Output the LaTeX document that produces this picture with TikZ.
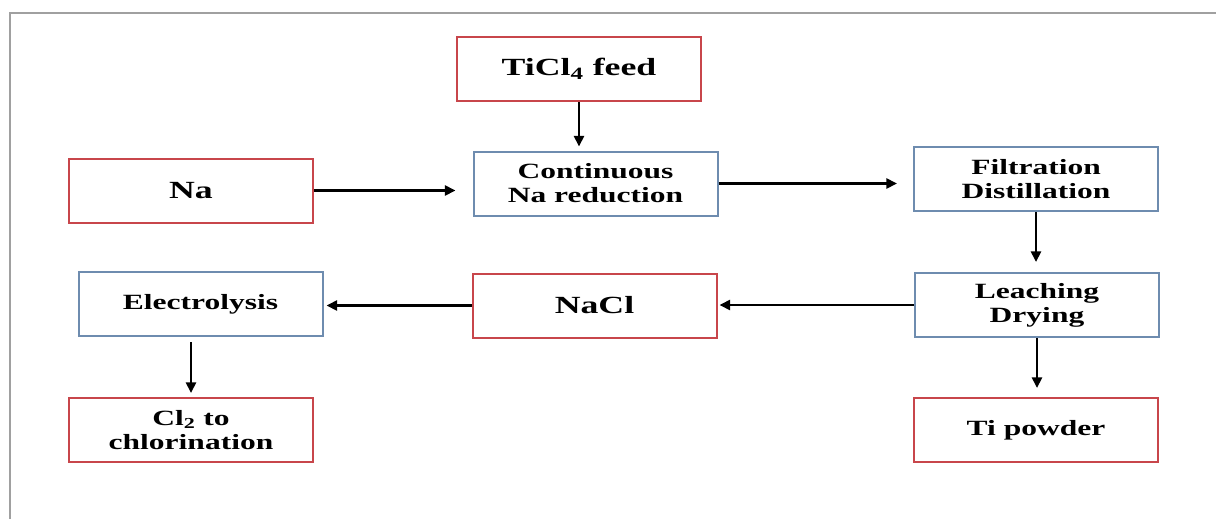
\documentclass[tikz,border=0pt]{standalone}
\usepackage{fontspec}
\setmainfont[FakeStretch=1.45]{Liberation Serif}
\usetikzlibrary{arrows.meta}
\definecolor{boxred}{RGB}{200,70,75}
\definecolor{boxblue}{RGB}{110,140,175}
\definecolor{framegray}{RGB}{160,160,160}
\begin{document}
\begin{tikzpicture}[x=0.75pt,y=-0.75pt,
  box/.style={draw, line width=1.5pt, fill=white, minimum width=183pt, minimum height=48pt,
    inner sep=0pt, align=center, font=\bfseries\fontsize{16.3}{18}\selectfont},
  redbox/.style={box, draw=boxred},
  bluebox/.style={box, draw=boxblue},
  bigtext/.style={font=\bfseries\fontsize{18.5}{20}\selectfont},
  arr/.style={line width=2.1pt, -{Triangle[length=8pt,width=7.5pt]}}]
\useasboundingbox (0,0) rectangle (1216,519);
\draw[framegray, line width=1.2pt] (10,519) -- (10,13) -- (1216,13);

\node[redbox, bigtext] (feed) at (579,69) {TiCl\textsubscript{4} feed};
\node[bluebox] (cont) at (595.5,183.5) {Continuous\\Na reduction};
\node[redbox, bigtext] (na) at (191,190.5) {Na};
\node[bluebox] (filt) at (1036,179) {Filtration\\Distillation};
\node[bluebox] (leach) at (1037,305) {Leaching\\Drying};
\node[redbox] (ti) at (1036,430) {Ti powder};
\node[redbox, bigtext] (nacl) at (594.5,305.5) {NaCl};
\node[bluebox] (elec) at (200.5,304) {Electrolysis};
\node[redbox] (cl2) at (191,430) {Cl\textsubscript{2} to\\chlorination};

\draw[arr, shorten >=3pt] (feed.south) -- (feed.south |- cont.north);
\draw[arr, shorten >=12.75pt] (na.east) -- (na.east -| cont.west);
\draw[arr, shorten >=12pt] (cont.east) -- (cont.east -| filt.west);
\draw[arr, shorten >=7.5pt] (filt.south) -- (filt.south |- leach.north);
\draw[arr, shorten >=1.5pt] (leach.west) -- (leach.west -| nacl.east);
\draw[arr, shorten >=2.25pt] (nacl.west) -- (nacl.west -| elec.east);
\draw[arr, shorten <=3.75pt, shorten >=3pt] (elec.south -| cl2.north) -- (cl2.north);
\draw[arr, shorten >=6.75pt] (leach.south) -- (leach.south |- ti.north);
\end{tikzpicture}
\end{document}
